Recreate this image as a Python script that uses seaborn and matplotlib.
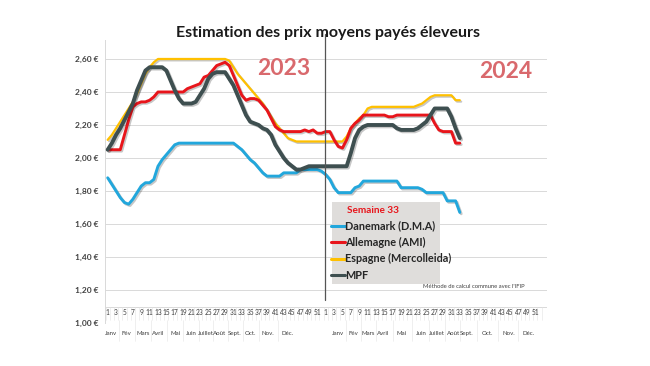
import numpy as np
import pandas as pd
import seaborn as sns
import matplotlib
matplotlib.use("Agg")
import matplotlib.pyplot as plt
import matplotlib.patheffects as pe
from matplotlib.lines import Line2D
from matplotlib.patches import Rectangle
import matplotlib.transforms as mtransforms

# ---------------- data ----------------
series_names = ["Danemark (D.M.A)", "Allemagne (AMI)", "Espagne (Mercolleida)", "MPF"]

# 2023 weeks 1..52 followed by 2024 weeks 1..33
danemark = [1.88, 1.84, 1.80, 1.76, 1.73, 1.72, 1.75, 1.79, 1.83, 1.85,
            1.85, 1.87, 1.95, 1.99, 2.02, 2.05, 2.08, 2.09, 2.09, 2.09,
            2.09, 2.09, 2.09, 2.09, 2.09, 2.09, 2.09, 2.09, 2.09, 2.09,
            2.09, 2.07, 2.05, 2.02, 1.99, 1.97, 1.94, 1.91, 1.89, 1.89,
            1.89, 1.89, 1.91, 1.91, 1.91, 1.91, 1.93, 1.93, 1.93, 1.93,
            1.93, 1.92,
            1.90, 1.87, 1.82, 1.79, 1.79, 1.79, 1.79, 1.82, 1.83, 1.86,
            1.86, 1.86, 1.86, 1.86, 1.86, 1.86, 1.86, 1.86, 1.82, 1.82,
            1.82, 1.82, 1.82, 1.81, 1.79, 1.79, 1.79, 1.79, 1.79, 1.74,
            1.74, 1.74, 1.67]

allemagne = [2.05, 2.05, 2.05, 2.05, 2.14, 2.23, 2.31, 2.33, 2.34, 2.34,
             2.35, 2.37, 2.40, 2.40, 2.40, 2.40, 2.40, 2.40, 2.40, 2.42,
             2.43, 2.44, 2.45, 2.49, 2.50, 2.53, 2.56, 2.57, 2.58, 2.56,
             2.50, 2.44, 2.38, 2.35, 2.36, 2.36, 2.35, 2.32, 2.29, 2.24,
             2.19, 2.17, 2.16, 2.16, 2.16, 2.16, 2.16, 2.17, 2.16, 2.17,
             2.15, 2.15,
             2.16, 2.16, 2.11, 2.07, 2.06, 2.11, 2.18, 2.21, 2.23, 2.26,
             2.26, 2.26, 2.26, 2.26, 2.26, 2.25, 2.25, 2.26, 2.26, 2.26,
             2.26, 2.26, 2.26, 2.26, 2.26, 2.26, 2.21, 2.17, 2.16, 2.16,
             2.16, 2.09, 2.09]

espagne = [2.11, 2.14, 2.18, 2.22, 2.26, 2.30, 2.34, 2.39, 2.45, 2.51,
           2.55, 2.58, 2.60, 2.60, 2.60, 2.60, 2.60, 2.60, 2.60, 2.60,
           2.60, 2.60, 2.60, 2.60, 2.60, 2.60, 2.60, 2.60, 2.60, 2.59,
           2.55, 2.51, 2.48, 2.45, 2.42, 2.39, 2.36, 2.33, 2.29, 2.25,
           2.21, 2.18, 2.15, 2.12, 2.11, 2.10, 2.10, 2.10, 2.10, 2.10,
           2.10, 2.10,
           2.10, 2.10, 2.10, 2.10, 2.10, 2.13, 2.18, 2.21, 2.24, 2.26,
           2.30, 2.31, 2.31, 2.31, 2.31, 2.31, 2.31, 2.31, 2.31, 2.31,
           2.31, 2.31, 2.32, 2.33, 2.35, 2.37, 2.38, 2.38, 2.38, 2.38,
           2.38, 2.35, 2.35]

mpf = [2.05, 2.09, 2.14, 2.18, 2.23, 2.28, 2.33, 2.41, 2.47, 2.53,
       2.55, 2.55, 2.55, 2.55, 2.53, 2.47, 2.41, 2.36, 2.33, 2.33,
       2.33, 2.34, 2.38, 2.42, 2.48, 2.51, 2.52, 2.52, 2.52, 2.48,
       2.44, 2.38, 2.32, 2.26, 2.22, 2.21, 2.20, 2.18, 2.17, 2.14,
       2.08, 2.04, 2.00, 1.97, 1.95, 1.93, 1.93, 1.94, 1.95, 1.95,
       1.95, 1.95,
       1.95, 1.95, 1.95, 1.95, 1.95, 1.95, 2.03, 2.12, 2.17, 2.19,
       2.20, 2.20, 2.20, 2.20, 2.20, 2.20, 2.20, 2.18, 2.17, 2.17,
       2.17, 2.17, 2.18, 2.20, 2.22, 2.26, 2.30, 2.30, 2.30, 2.30,
       2.25, 2.18, 2.12]

years = ["2023", "2024"]
weeks_per_year = 52
months = ["Janv", "Fév", "Mars", "Avril", "Mai", "Juin", "Juillet", "Août",
          "Sept.", "Oct.", "Nov.", "Déc."]
ytick_vals = [1.00, 1.20, 1.40, 1.60, 1.80, 2.00, 2.20, 2.40, 2.60]
title = "Estimation des prix moyens payés éleveurs"
legend_title = "Semaine 33"
note = "Méthode de calcul commune avec l'IFIP"

colors = {"Danemark (D.M.A)": "#22a7dc", "Allemagne (AMI)": "#e8151b",
          "Espagne (Mercolleida)": "#ffc000", "MPF": "#3e4f50"}
widths = {"Danemark (D.M.A)": 2.1, "Allemagne (AMI)": 2.1,
          "Espagne (Mercolleida)": 1.6, "MPF": 2.8}

values = {"Danemark (D.M.A)": danemark, "Allemagne (AMI)": allemagne,
          "Espagne (Mercolleida)": espagne, "MPF": mpf}

rows = []
for name in series_names:
    for i, v in enumerate(values[name]):
        rows.append({"idx": i, "prix": v, "serie": name})
df = pd.DataFrame(rows)

# ---------------- plot ----------------
sns.set_theme(style="white")
plt.rcParams["font.family"] = ["Lato", "DejaVu Sans"]

fig = plt.figure(figsize=(6.5, 3.66), dpi=100)
ax = fig.add_axes([105 / 650, 43 / 366, 442 / 650, 283 / 366])

n_total = 2 * weeks_per_year
ax.set_xlim(-0.64, 104.8)
ax.set_ylim(1.0, 2.715)

# grid
for v in ytick_vals[1:]:
    ax.axhline(v, color="#d9d9d9", lw=0.7, zorder=0)
ax.axhline(1.097, color="#d9d9d9", lw=0.7, zorder=0)

shadow = [pe.SimpleLineShadow(offset=(1.0, -1.0), alpha=0.22, shadow_color="black"), pe.Normal()]
order = ["Danemark (D.M.A)", "Espagne (Mercolleida)", "Allemagne (AMI)", "MPF"]
for name in order:
    sub = df[df["serie"] == name]
    sns.lineplot(data=sub, x="idx", y="prix", ax=ax, color=colors[name],
                 lw=widths[name], legend=False, zorder=3,
                 path_effects=shadow, solid_joinstyle="round", solid_capstyle="round")

# year divider
ax.plot([51.75, 51.75], [1.14, 2.75], color="#555555", lw=0.9, clip_on=False, zorder=4)

# axes styling
for s in ["top", "right", "bottom"]:
    ax.spines[s].set_visible(False)
ax.spines["left"].set_color("#d9d9d9")
ax.spines["left"].set_linewidth(0.7)
ax.set_xlabel("")
ax.set_ylabel("")
ax.set_xticks([])
ax.set_yticks(ytick_vals)
ax.set_yticklabels([f"{v:.2f} €".replace(".", ",") for v in ytick_vals],
                   fontsize=6, fontweight="bold", color="#404040")
ax.tick_params(axis="y", length=0, pad=5)

# week / month label table
trans = mtransforms.blended_transform_factory(ax.transData, ax.transAxes)
for y_i in range(2):
    base = y_i * weeks_per_year
    for w in range(1, weeks_per_year, 2):
        ax.text(base + w - 1, 0.036, str(w), transform=trans, ha="center", va="center",
                fontsize=4.8, color="#404040", clip_on=False)
for k in range(n_total + 1):
    ax.plot([k - 0.5, k - 0.5], [0.0565, 0.012], transform=trans, color="#e3e3e3",
            lw=0.4, clip_on=False)

month_pos_2023 = [0.7, 4.5, 8.5, 12.1, 16.1, 20.0, 23.4, 26.8, 30.4, 34.0, 38.3, 43.0]
month_pos_2024 = [55.0, 58.6, 62.2, 65.8, 70.2, 74.9, 78.5, 82.5, 85.7, 90.5, 95.6, 100.4]
for pos_list in (month_pos_2023, month_pos_2024):
    for m, p in zip(months, pos_list):
        ax.text(p, -0.036, m, transform=trans, ha="center", va="center",
                fontsize=4.4, color="#404040", clip_on=False)
    for a, b in zip(pos_list[:-1], pos_list[1:]):
        sep = (a + b) / 2
        ax.plot([sep, sep], [0.012, -0.065], transform=trans, color="#e3e3e3",
                lw=0.4, clip_on=False)

# year labels
fig.text(284 / 650, 1 - 68.5 / 366, years[0], ha="center", va="center",
         fontsize=16.5, fontweight="bold", color="#d9696d")
fig.text(506 / 650, 1 - 71 / 366, years[1], ha="center", va="center",
         fontsize=16.5, fontweight="bold", color="#d9696d")

# title
fig.text(328 / 650, 1 - 33 / 366, title, ha="center", va="center",
         fontsize=11.5, fontweight="bold", color="#1a1a1a")

# legend box
ax_px_w, ax_px_h, ax_x0, ax_y0 = 442, 283, 105, 323
box = Rectangle(((332 - ax_x0) / ax_px_w, (ax_y0 - 284) / ax_px_h),
                108 / ax_px_w, 82 / ax_px_h, transform=ax.transAxes,
                facecolor="#dfdddb", edgecolor="none", zorder=5, clip_on=False)
ax.add_patch(box)
ax.text((347 - ax_x0) / ax_px_w, (ax_y0 - 210.5) / ax_px_h, legend_title,
        transform=ax.transAxes, ha="left", va="center", fontsize=7.2,
        fontweight="bold", color="#e8151b", zorder=6)

handles = [Line2D([], [], color=colors[n], lw=2.2) for n in series_names]
leg = ax.legend(handles, series_names, loc="upper left",
                bbox_to_anchor=((331 - ax_x0) / ax_px_w, (ax_y0 - 220.5) / ax_px_h),
                frameon=False, handlelength=1.25, handletextpad=0.05, borderpad=0.0,
                labelspacing=0.5, borderaxespad=0,
                prop={"size": 7.8, "weight": "bold"})
for t in leg.get_texts():
    t.set_color("#262626")
leg.set_zorder(6)

fig.text(474 / 650, 1 - 287 / 366, note, ha="center", va="center",
         fontsize=4.2, color="#404040")

fig.savefig("out.png", dpi=100, facecolor="white")
